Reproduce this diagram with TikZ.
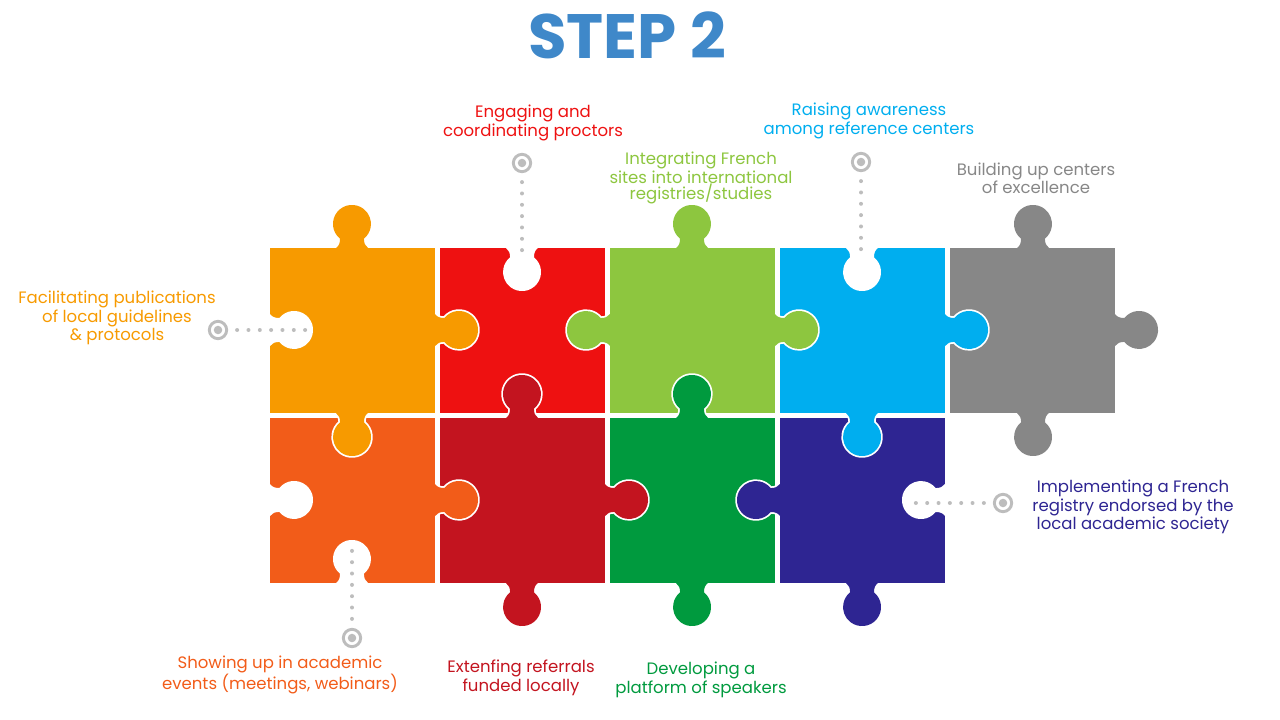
\documentclass[tikz,border=0pt]{standalone}
\usepackage{fontspec}
\setmainfont{Poppins}
\definecolor{cOr}{HTML}{F79A00}
\definecolor{cRe}{HTML}{EE1111}
\definecolor{cLi}{HTML}{8DC63F}
\definecolor{cBl}{HTML}{00AEEF}
\definecolor{cGr}{HTML}{878787}
\definecolor{cDo}{HTML}{F25C19}
\definecolor{cCr}{HTML}{C3141F}
\definecolor{cGn}{HTML}{009A3E}
\definecolor{cNv}{HTML}{2E2592}
\definecolor{cTi}{HTML}{3F88C9}
\definecolor{cDot}{HTML}{BDBDBD}
\newcommand\pz[3]{\fill[#3] (#1,-#2) rectangle ++(165,-165);}
\newcommand\kpath{(-16,-3) -- (-16,0) .. controls (-13,2) and (-12,5) .. (-12,9.3) arc[start angle=231,end angle=-51,radius=19] .. controls (12,5) and (13,2) .. (16,0) -- (16,-3) -- cycle}
\newcommand\kopen{(-16,0.5) .. controls (-13,2) and (-12,5) .. (-12,9.3) arc[start angle=231,end angle=-51,radius=19] .. controls (12,5) and (13,2) .. (16,0.5)}
% x, y(screen), rotation (0 up,180 down,-90 right,90 left), colour
\newcommand\knob[4]{\begin{scope}[shift={(#1,-#2)},rotate=#3]
\fill[#4] \kpath;
\end{scope}}
\newcommand\oknob[4]{\begin{scope}[shift={(#1,-#2)},rotate=#3]
\draw[white,line width=2.6pt,line join=round] \kopen;
\fill[#4] \kpath;
\end{scope}}
\tikzset{lbl/.style={align=center,font=\fontsize{12.4}{12}\selectfont},
 dots/.style={cDot,line width=3pt,dash pattern=on 0pt off 8.5pt,line cap=round},
 ring/.style={circle,draw=cDot,line width=2.2pt,minimum size=13pt,inner sep=0pt,path picture={\fill[cDot] (path picture bounding box.center) circle (3.2pt);}}}
\begin{document}
\begin{tikzpicture}[x=0.75pt,y=0.75pt]
\useasboundingbox (0,0) rectangle (1280,-720);
\node[font=\fontsize{47}{47}\selectfont\bfseries,text=cTi] (title) at (627,-35) {STEP 2};
% squares
\pz{270}{248}{cOr}\pz{440}{248}{cRe}\pz{610}{248}{cLi}\pz{780}{248}{cBl}\pz{950}{248}{cGr}
\pz{270}{418}{cDo}\pz{440}{418}{cCr}\pz{610}{418}{cGn}\pz{780}{418}{cNv}
% outer knobs
\knob{352}{248}{0}{cOr}
\knob{692}{248}{0}{cLi}
\knob{1033}{248}{0}{cGr}
\knob{1115}{330}{-90}{cGr}
\knob{1033}{413}{180}{cGr}
\knob{522}{583}{180}{cCr}
\knob{692}{583}{180}{cGn}
\knob{862}{583}{180}{cNv}
% holes
\knob{270}{330}{-90}{white}
\knob{522}{248}{180}{white}
\knob{862}{248}{180}{white}
\knob{270}{500}{-90}{white}
\knob{352}{583}{0}{white}
\knob{945}{500}{90}{white}
% interlocking knobs
\oknob{435}{330}{-90}{cOr}
\oknob{352}{413}{180}{cOr}
\oknob{610}{330}{90}{cLi}
\oknob{522}{418}{0}{cCr}
\oknob{435}{500}{-90}{cDo}
\oknob{605}{500}{-90}{cCr}
\oknob{692}{418}{0}{cGn}
\oknob{775}{330}{-90}{cLi}
\oknob{945}{330}{-90}{cBl}
\oknob{862}{413}{180}{cBl}
\oknob{780}{500}{90}{cNv}
% callouts
\node[ring] (r1) at (218,-330) {};
\coordinate (e1) at (306,-330);
\draw[dots] (r1.east) ++(9,0) -- (e1);
\node[ring] (r2) at (522,-163) {};
\coordinate (e2) at (522,-252);
\draw[dots] (r2.south) ++(0,-9) -- (e2);
\node[ring] (r3) at (861,-162) {};
\coordinate (e3) at (861,-252);
\draw[dots] (r3.south) ++(0,-9) -- (e3);
\node[ring] (r4) at (352,-638) {};
\coordinate (e4) at (352,-550);
\draw[dots] (r4.north) ++(0,9) -- (e4);
\node[ring] (r5) at (1003,-503) {};
\coordinate (e5) at (914,-503);
\draw[dots] (r5.west) ++(-9,0) -- (e5);
% labels
\node[lbl,text=cOr] (l1) at (117,-318) {Facilitating publications\\of local guidelines\\\& protocols};
\node[lbl,text=cRe] (l2) at (533,-123) {Engaging and\\coordinating proctors};
\node[lbl,text=cLi] (l3) at (701,-178) {Integrating French\\sites into international\\registries/studies};
\node[lbl,text=cBl] (l4) at (869,-121) {Raising awareness\\among reference centers};
\node[lbl,text=cGr] (l5) at (1036,-178) {Building up centers\\of excellence};
\node[lbl,text=cNv] (l6) at (1133,-507) {Implementing a French\\registry endorsed by the\\local academic society};
\node[lbl,text=cDo] (l7) at (280,-675) {Showing up in academic\\events (meetings, webinars)};
\node[lbl,text=cCr] (l8) at (521,-678) {Extenfing referrals\\funded locally};
\node[lbl,text=cGn] (l9) at (701,-680) {Developing a\\platform of speakers};
\end{tikzpicture}
\end{document}
